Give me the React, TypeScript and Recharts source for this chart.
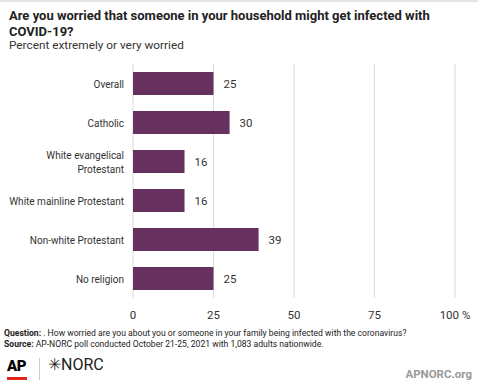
import React from "react";
import { BarChart, Bar, XAxis, YAxis, CartesianGrid, LabelList } from "recharts";

const categories: string[] = [
  "Overall",
  "Catholic",
  "White evangelical\nProtestant",
  "White mainline Protestant",
  "Non-white Protestant",
  "No religion",
];
const worried: number[] = [25, 30, 16, 16, 39, 25];
const xTicks: number[] = [0, 25, 50, 75, 100];

const data = categories.map((name, i) => ({ name, value: worried[i] }));

const FONT = "Roboto, 'Noto Sans', sans-serif";

const CategoryTick = (props: any) => {
  const { x, y, payload } = props;
  const lines: string[] = String(payload.value).split("\n");
  const lh = 14;
  const start = -((lines.length - 1) * lh) / 2;
  return (
    <text x={x} y={y} textAnchor="end" fill="#333" fontSize={10} fontFamily={FONT}>
      {lines.map((l, i) => (
        <tspan key={i} x={x} dy={i === 0 ? start + 4 : lh}>
          {l}
        </tspan>
      ))}
    </text>
  );
};

const xFmt = (v: number) => (v === 100 ? "100 %" : String(v));

export default function App() {
  return (
    <div
      style={{
        position: "absolute",
        left: 0,
        top: 0,
        width: 478,
        height: 385,
        background: "#fff",
        fontFamily: FONT,
        overflow: "hidden",
      }}
    >
      <div style={{ position: "absolute", left: 0, top: 0, width: 478, height: 2, background: "#e4e4e4" }} />
      <div
        style={{
          position: "absolute",
          left: 9,
          top: 8,
          width: 440,
          fontSize: 13,
          fontWeight: 700,
          lineHeight: "16px",
          color: "#222",
        }}
      >
        Are you worried that someone in your household might get infected with COVID-19?
      </div>
      <div style={{ position: "absolute", left: 9, top: 38, fontSize: 11.8, color: "#333" }}>
        Percent extremely or very worried
      </div>

      <div style={{ position: "absolute", left: 0, top: 0 }}>
        <BarChart
          width={478}
          height={330}
          data={data}
          layout="vertical"
          margin={{ top: 64, right: 23, left: 0, bottom: 0 }}
        >
          <CartesianGrid horizontal={false} stroke="#dcdcdc" />
          <XAxis
            type="number"
            domain={[0, 100]}
            ticks={xTicks}
            tickFormatter={xFmt}
            axisLine={false}
            tickLine={false}
            tickMargin={7}
            height={32}
            tick={{ fill: "#333", fontSize: 11.5, fontFamily: FONT }}
          />
          <YAxis
            type="category"
            dataKey="name"
            width={133}
            axisLine={false}
            tickLine={false}
            tickSize={0}
            tickMargin={9}
            tick={<CategoryTick />}
            interval={0}
          />
          <Bar dataKey="value" fill="#66305f" barSize={23} isAnimationActive={false}>
            <LabelList
              dataKey="value"
              position="right"
              offset={10}
              fill="#333"
              fontSize={11.5}
              fontFamily={FONT}
            />
          </Bar>
        </BarChart>
      </div>

      <div style={{ position: "absolute", left: 4, top: 328, fontSize: 8.6, color: "#222", lineHeight: "11px" }}>
        <div>
          <b>Question:</b> . How worried are you about you or someone in your family being infected with the coronavirus?
        </div>
        <div>
          <b>Source:</b> AP-NORC poll conducted October 21-25, 2021 with 1,083 adults nationwide.
        </div>
      </div>

      <div style={{ position: "absolute", left: 7, top: 357, fontSize: 15, fontWeight: 900, color: "#000", letterSpacing: -0.5 }}>
        AP
      </div>
      <div style={{ position: "absolute", left: 7, top: 377, width: 20, height: 3, background: "#e0251b" }} />
      <div style={{ position: "absolute", left: 39, top: 358, width: 1, height: 22, background: "#ccc" }} />
      <div style={{ position: "absolute", left: 48, top: 355, fontSize: 16, color: "#222" }}>
        ✳NORC
      </div>
      <div style={{ position: "absolute", right: 6, top: 367, fontSize: 11.5, fontWeight: 700, color: "#999" }}>
        APNORC.org
      </div>
    </div>
  );
}
